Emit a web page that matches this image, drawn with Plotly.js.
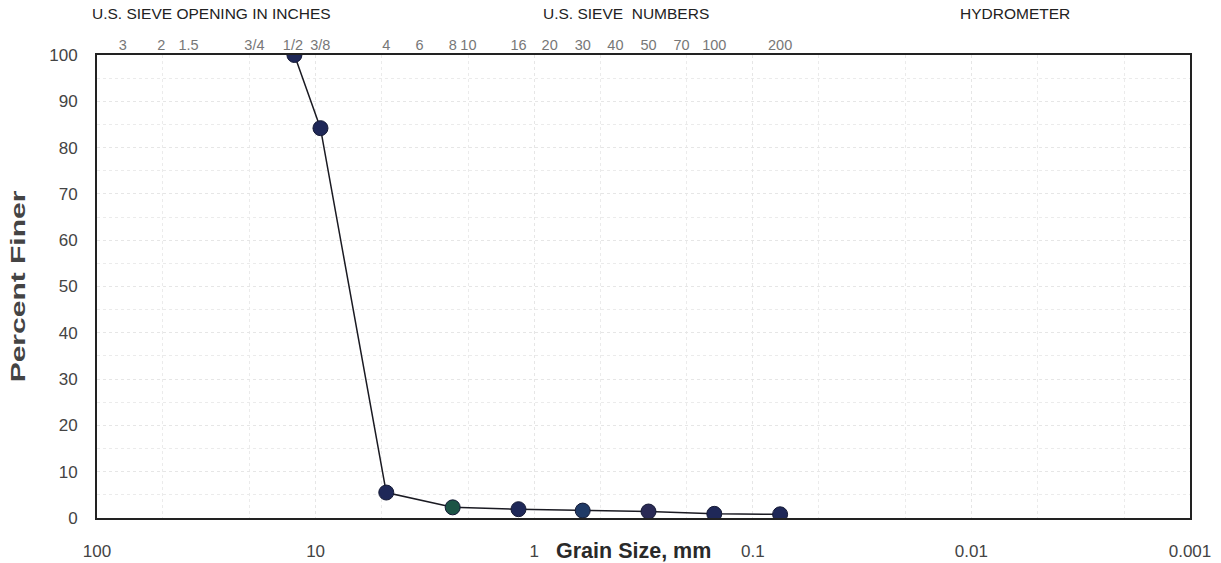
<!DOCTYPE html>
<html>
<head>
<meta charset="utf-8">
<script src="https://cdn.plot.ly/plotly-3.0.1.min.js"></script>
<style>html,body{margin:0;padding:0;background:#fff;}#chart{width:1221px;height:563px;}</style>
</head>
<body>
<div id="chart"></div>
<script>
// Grain size data (sieve analysis)
const grainSizeMm = [12.5, 9.5, 4.75, 2.36, 1.18, 0.6, 0.3, 0.15, 0.075];
const percentFiner = [100, 84.2, 5.5, 2.3, 1.9, 1.6, 1.4, 0.9, 0.8];
const markerColors = ['#1f2858', '#1f2858', '#1f2858', '#1d5446', '#1f2858', '#1f3a66', '#2a2a55', '#1f2858', '#1f2858'];

// Top axis: sieve openings
const sieveMm = [76.2, 50.8, 38.1, 19.05, 12.7, 9.525, 4.75, 3.35, 2.36, 2.0, 1.18, 0.85, 0.6, 0.425, 0.3, 0.212, 0.15, 0.075];
const sieveLabels = ['3', '2', '1.5', '3/4', '1/2', '3/8', '4', '6', '8', '10', '16', '20', '30', '40', '50', '70', '100', '200'];

// Bottom axis ticks
const xTickVals = [100, 10, 1, 0.1, 0.01, 0.001];
const xTickText = ['100', '10', '1', '0.1', '0.01', '0.001'];

const headerTexts = ['U.S. SIEVE OPENING IN INCHES', 'U.S. SIEVE\u00a0 NUMBERS', 'HYDROMETER'];
const headerX = [0.1052, 0.484, 0.840];

const font = 'Liberation Sans, Arial, sans-serif';

const traces = [
  {
    x: grainSizeMm, y: percentFiner, type: 'scatter', mode: 'lines+markers',
    line: {color: '#1a1a22', width: 1.5},
    marker: {size: 15, color: markerColors, line: {color: '#151a35', width: 1}},
    hoverinfo: 'x+y', showlegend: false
  },
  {
    x: sieveMm, y: sieveMm.map(() => 50), xaxis: 'x2', type: 'scatter', mode: 'markers',
    marker: {opacity: 0}, hoverinfo: 'skip', showlegend: false
  }
];

const annotations = headerTexts.map((t, i) => ({
  text: t, xref: 'paper', yref: 'paper', x: headerX[i], y: 1, yshift: 42,
  xanchor: 'center', yanchor: 'middle', showarrow: false,
  font: {family: font, size: 15.5, color: '#222'}
}));
annotations.push({
  text: '<b>Grain Size, mm</b>', xref: 'paper', yref: 'paper', x: 0.4904, y: 0, yshift: -33,
  xanchor: 'center', yanchor: 'middle', showarrow: false,
  font: {family: font, size: 21.5, color: '#2a2a2a'}
});

const layout = {
  width: 1221, height: 563,
  margin: {l: 97, r: 31, t: 55, b: 45},
  paper_bgcolor: '#fff', plot_bgcolor: '#fff',
  font: {family: font},
  xaxis: {
    type: 'log', range: [2, -3], tickvals: xTickVals, ticktext: xTickText,
    tickfont: {size: 17, color: '#444'}, ticks: '', ticklabelstandoff: 17,
    showline: true, mirror: true, linecolor: '#222', linewidth: 2,
    showgrid: true, gridcolor: '#e6e6e6', griddash: 'dot', gridwidth: 1,
    minor: {showgrid: true, gridcolor: '#ebebeb', griddash: 'dot', gridwidth: 1, ticks: ''},
    zeroline: false
  },
  xaxis2: {
    type: 'log', range: [2, -3], overlaying: 'x', side: 'top', anchor: 'y',
    tickvals: sieveMm, ticktext: sieveLabels, tickfont: {size: 14.5, color: '#777'},
    ticks: '', ticklabelstandoff: 1, showline: false, showgrid: false, zeroline: false
  },
  yaxis: {
    range: [0, 100], tickvals: [0, 10, 20, 30, 40, 50, 60, 70, 80, 90, 100],
    tickfont: {size: 17, color: '#444'}, ticks: '', ticklabelstandoff: 14,
    showline: true, mirror: true, linecolor: '#222', linewidth: 2,
    showgrid: true, gridcolor: '#e6e6e6', griddash: 'dot', gridwidth: 1,
    minor: {dtick: 5, showgrid: true, gridcolor: '#ebebeb', griddash: 'dot', gridwidth: 1},
    zeroline: false,
    title: {text: '<b>Percent Finer</b>', font: {size: 20, color: '#444'}, standoff: 18}
  },
  annotations: annotations
};

Plotly.newPlot('chart', traces, layout, {displayModeBar: false, staticPlot: true}).then(function (gd) {
  // The reference's vertical title is stretched along its length
  const t = gd.querySelector('.g-ytitle text');
  if (t) {
    const x = parseFloat(t.getAttribute('x'));
    const y = parseFloat(t.getAttribute('y'));
    const tr = t.getAttribute('transform') || '';
    t.setAttribute('transform', 'translate(' + x + ',' + y + ') scale(1,1.5) translate(' + (-x) + ',' + (-y) + ') ' + tr);
  }
});
</script>
</body>
</html>
